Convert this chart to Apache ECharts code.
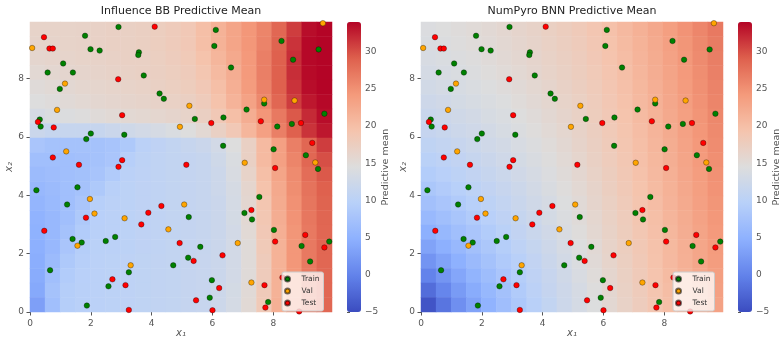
<!DOCTYPE html>
<html>
<head>
<meta charset="utf-8">
<script src="https://cdn.jsdelivr.net/npm/echarts@6/dist/echarts.min.js"></script>
<style>
  html, body { margin: 0; padding: 0; background: #fff; }
  #chart { width: 781px; height: 337px; }
</style>
</head>
<body>
<div id="chart"></div>
<script>
// axis ranges and ticks
const axisMax = 9.93
const xTicks = [0, 2, 4, 6, 8]
const cbTicks = [-5, 0, 5, 10, 15, 20, 25, 30]
const cMin = -5
const cMax = 34

// points (x1, x2)
const trainPts = [
  [2.91, 9.76], [1.81, 9.46], [1.99, 9.00], [2.29, 8.95], [3.58, 8.89], [3.56, 8.80], [1.09, 8.51],
  [0.58, 8.20], [1.41, 8.20], [3.74, 8.10], [0.98, 7.64], [4.26, 7.48], [4.40, 7.30], [0.32, 6.59],
  [0.35, 6.35], [2.00, 6.11], [1.85, 5.92], [3.10, 6.07], [6.11, 9.66], [8.27, 9.28], [6.06, 9.11],
  [9.49, 8.99], [8.65, 8.64], [6.61, 8.37], [7.70, 7.14], [7.12, 6.93], [9.68, 6.79], [5.42, 6.61],
  [6.36, 6.66], [8.13, 6.35], [8.61, 6.44], [6.35, 5.69], [8.01, 5.57], [9.07, 5.37], [9.47, 4.90],
  [0.21, 4.17], [1.56, 4.27], [1.22, 3.68], [1.40, 2.50], [1.70, 2.38], [2.49, 2.43], [2.80, 2.57],
  [0.66, 1.43], [3.25, 1.36], [4.71, 1.60], [2.58, 0.88], [1.87, 0.22], [7.54, 3.94], [7.05, 3.39],
  [7.30, 3.17], [5.22, 3.25], [8.02, 2.81], [8.93, 2.26], [9.84, 2.41], [5.60, 2.23], [5.20, 1.86],
  [9.21, 1.73], [5.98, 1.09], [5.91, 0.49], [7.83, 0.34]
]
const valPts = [
  [0.07, 9.04], [1.15, 7.82], [0.89, 6.92], [4.93, 6.34], [1.19, 5.50], [9.63, 9.89], [5.24, 7.06],
  [7.70, 7.27], [8.70, 7.24], [7.06, 5.11], [9.38, 5.12], [1.97, 3.87], [2.12, 3.37], [3.11, 3.21],
  [4.55, 2.83], [1.56, 2.27], [3.31, 1.60], [5.07, 3.68], [6.83, 2.36], [7.28, 1.01]
]
const testPts = [
  [4.10, 9.77], [0.46, 9.41], [0.64, 9.02], [0.75, 9.02], [2.90, 7.97], [3.03, 6.74], [0.26, 6.51],
  [0.78, 6.32], [0.75, 5.29], [3.03, 5.20], [1.61, 5.04], [2.91, 4.97], [5.96, 6.47], [7.59, 6.53],
  [8.91, 6.47], [9.28, 5.79], [5.14, 5.04], [8.06, 4.93], [4.32, 3.63], [1.84, 3.23], [3.89, 3.40],
  [3.66, 3.00], [0.47, 2.78], [4.92, 2.36], [2.71, 1.12], [3.14, 0.92], [3.25, 0.07], [7.28, 3.49],
  [9.05, 2.64], [8.06, 2.41], [9.68, 2.21], [6.33, 1.94], [5.38, 1.75], [6.22, 0.82], [7.71, 0.92],
  [8.30, 1.18], [5.46, 0.40], [6.00, 0.06], [7.74, 0.15], [8.85, 0.02]
]

// predictive mean, 20x20 cells, top row first
const bbMean = [
  [16.5, 16.5, 16.5, 16.6, 16.8, 17, 17, 17.2, 17.5, 18, 18.5, 20, 21.5, 23, 24.5, 26, 28.5, 31, 33.5, 34],
  [16.4, 16.4, 16.5, 16.6, 16.8, 17, 17, 17.2, 17.5, 18, 18.5, 20, 21.5, 23, 24.5, 26.2, 28.8, 31.5, 33.8, 34],
  [16, 16.2, 16.3, 16.5, 16.6, 16.8, 17, 17, 17.3, 17.8, 18.3, 19.5, 21, 22.5, 24.3, 26.5, 29, 31.8, 33.8, 34],
  [15.5, 15.8, 16, 16.2, 16.4, 16.6, 16.8, 17, 17.2, 17.5, 18, 19, 20.5, 22, 24.2, 26.5, 29, 31.8, 33.7, 34],
  [15, 15.3, 15.6, 15.9, 16.1, 16.3, 16.5, 16.7, 17, 17.3, 17.7, 18.5, 20, 21.8, 24, 26.3, 29, 31.5, 33.5, 34],
  [14.5, 14.8, 15.2, 15.5, 15.8, 16, 16.2, 16.4, 16.6, 16.9, 17.2, 18, 19.5, 21.3, 23.3, 25.7, 28.5, 31, 33, 33.8],
  [13.5, 14, 14.3, 14.6, 15, 15.3, 15.5, 15.7, 15.9, 16.2, 16.5, 17.2, 18.5, 20, 22, 24.5, 27, 29.5, 32, 33.5],
  [12, 11.5, 11.5, 11.5, 11.5, 12, 12.5, 13, 13.5, 14, 14.5, 15.5, 17, 18.5, 21, 23.5, 26.5, 29, 31.5, 33],
  [8, 7.5, 7.5, 7.5, 7.5, 7.8, 8.5, 10, 10.5, 11, 11.5, 12, 13, 14.5, 17, 20.5, 23.5, 26.5, 28.5, 31],
  [7, 7, 7, 7.2, 7.5, 8, 9.5, 10.3, 10.7, 11, 11.2, 11.5, 12.5, 14, 17, 20.5, 23.5, 26, 28.5, 30],
  [6.5, 6.8, 7, 7.3, 7.8, 8.8, 10, 10.4, 10.7, 11, 11.2, 11.5, 12.3, 13.8, 16.5, 20, 23, 25.5, 28, 29.5],
  [6, 6.5, 7, 7.5, 8.5, 9.8, 10.2, 10.5, 10.7, 11, 11.2, 11.5, 12.2, 13.5, 16, 19.5, 22.5, 25.3, 27.5, 29],
  [5.5, 6.2, 7, 8, 9.5, 10, 10.2, 10.5, 10.7, 11, 11.2, 11.5, 12, 13.3, 15.8, 19, 22.3, 25, 27.3, 28.8],
  [5.2, 6, 7, 8.5, 9.7, 10, 10.2, 10.5, 10.7, 11, 11.2, 11.5, 12, 13.2, 15.5, 18.8, 22, 24.8, 27.2, 28.6],
  [5, 6, 7.5, 9, 9.8, 10, 10.2, 10.5, 10.7, 11, 11.2, 11.5, 12, 13, 15.3, 18.5, 21.8, 24.6, 27, 28.5],
  [4.8, 6, 8, 9.3, 9.9, 10, 10.2, 10.5, 10.7, 11, 11.2, 11.5, 12, 13, 15, 18.3, 21.5, 24.5, 27, 28.5],
  [4.5, 6.5, 8.5, 9.5, 10, 10.2, 10.4, 10.6, 10.8, 11, 11.3, 11.6, 12, 13, 15, 18, 21.5, 24.5, 27, 28.5],
  [4.3, 7, 9, 9.7, 10, 10.2, 10.4, 10.6, 10.8, 11, 11.3, 11.6, 12, 13, 15, 18, 21.5, 24.5, 27, 28.5],
  [4, 7.5, 9.3, 9.8, 10, 10.2, 10.4, 10.6, 10.8, 11, 11.3, 11.6, 12.2, 13.2, 15.2, 18.2, 21.5, 24.5, 27, 28.5],
  [3, 7, 9.3, 9.8, 10, 10.2, 10.4, 10.6, 10.8, 11, 11.3, 11.6, 12.3, 13.3, 15.3, 18.3, 21.7, 24.7, 27.2, 28.5]
]
const bnnMean = [
  [14.2, 14.5, 14.8, 15.1, 15.4, 15.8, 16.2, 16.6, 17.1, 17.6, 18.2, 18.9, 19.7, 20.6, 21.6, 22.6, 23.7, 24.8, 25.9, 27],
  [14, 14.3, 14.6, 14.9, 15.2, 15.6, 16, 16.4, 16.9, 17.4, 18, 18.7, 19.5, 20.4, 21.4, 22.4, 23.5, 24.6, 25.7, 26.8],
  [13.7, 14, 14.3, 14.6, 15, 15.4, 15.8, 16.2, 16.7, 17.2, 17.8, 18.5, 19.3, 20.2, 21.2, 22.2, 23.3, 24.4, 25.5, 26.6],
  [13.3, 13.7, 14, 14.3, 14.7, 15.1, 15.5, 16, 16.5, 17, 17.6, 18.3, 19.1, 20, 21, 22, 23.1, 24.2, 25.3, 26.4],
  [12.9, 13.3, 13.6, 14, 14.4, 14.8, 15.2, 15.7, 16.2, 16.8, 17.4, 18.1, 18.9, 19.8, 20.8, 21.8, 22.9, 24, 25.1, 26.2],
  [12.4, 12.8, 13.2, 13.6, 14, 14.4, 14.9, 15.4, 15.9, 16.5, 17.1, 17.9, 18.7, 19.6, 20.6, 21.6, 22.7, 23.8, 24.9, 26],
  [11.9, 12.3, 12.7, 13.1, 13.6, 14, 14.5, 15, 15.6, 16.2, 16.9, 17.7, 18.5, 19.4, 20.4, 21.4, 22.5, 23.6, 24.7, 25.8],
  [11.3, 11.7, 12.2, 12.6, 13.1, 13.6, 14.1, 14.7, 15.3, 15.9, 16.6, 17.4, 18.3, 19.2, 20.2, 21.2, 22.3, 23.4, 24.5, 25.6],
  [10.6, 11.1, 11.6, 12.1, 12.6, 13.1, 13.7, 14.3, 14.9, 15.6, 16.4, 17.2, 18.1, 19, 20, 21, 22.1, 23.2, 24.3, 25.4],
  [9.9, 10.4, 10.9, 11.5, 12, 12.6, 13.2, 13.9, 14.6, 15.3, 16.1, 17, 17.9, 18.8, 19.8, 20.8, 21.9, 23, 24.1, 25.2],
  [9.1, 9.7, 10.3, 10.9, 11.5, 12.1, 12.8, 13.5, 14.2, 15, 15.8, 16.7, 17.6, 18.6, 19.6, 20.6, 21.7, 22.8, 23.9, 25],
  [8.2, 8.9, 9.6, 10.3, 10.9, 11.6, 12.3, 13.1, 13.9, 14.7, 15.5, 16.4, 17.4, 18.4, 19.4, 20.4, 21.5, 22.6, 23.7, 24.8],
  [7.2, 8, 8.8, 9.6, 10.3, 11.1, 11.9, 12.7, 13.5, 14.4, 15.2, 16.2, 17.1, 18.1, 19.2, 20.2, 21.3, 22.4, 23.5, 24.6],
  [6.1, 7, 7.9, 8.8, 9.7, 10.5, 11.4, 12.3, 13.2, 14.1, 15, 15.9, 16.9, 17.9, 19, 20, 21.1, 22.2, 23.3, 24.4],
  [4.8, 5.9, 7, 8, 9, 9.9, 10.9, 11.9, 12.8, 13.8, 14.7, 15.7, 16.7, 17.7, 18.8, 19.8, 20.9, 22, 23.1, 24.2],
  [3.4, 4.7, 6, 7.2, 8.3, 9.3, 10.4, 11.4, 12.4, 13.4, 14.4, 15.4, 16.5, 17.5, 18.6, 19.6, 20.7, 21.8, 22.9, 24],
  [1.8, 3.4, 4.9, 6.3, 7.5, 8.7, 9.8, 10.9, 12, 13.1, 14.1, 15.2, 16.3, 17.3, 18.4, 19.5, 20.6, 21.7, 22.8, 23.9],
  [0, 1.9, 3.7, 5.3, 6.7, 8, 9.3, 10.5, 11.6, 12.7, 13.8, 14.9, 16, 17.1, 18.2, 19.3, 20.4, 21.5, 22.6, 23.7],
  [-2, 0.3, 2.5, 4.3, 5.9, 7.4, 8.8, 10.1, 11.3, 12.4, 13.5, 14.6, 15.8, 16.9, 18, 19.1, 20.2, 21.3, 22.4, 23.5],
  [-4.3, -1.3, 1.3, 3.4, 5.2, 6.9, 8.4, 9.8, 11, 12.2, 13.3, 14.4, 15.6, 16.7, 17.8, 18.9, 20, 21.1, 22.2, 23.3]
]

// coolwarm
const coolwarm = ['#3b4cc0', '#6282ea', '#8db0fe', '#b8d0f9', '#dddddd', '#f5c4ad', '#f49a7b', '#de604d', '#b40426']

const chart = echarts.init(document.getElementById('chart'), null, { renderer: 'canvas' })

// heatmap cells, row 0 of the arrays is the top of the plot
function toCells(field) {
  const out = []
  field.forEach((row, r) => {
    row.forEach((v, c) => out.push([c, field.length - 1 - r, v]))
  })
  return out
}

const colIdx = bbMean[0].map((_, i) => i)
const rowIdx = bbMean.map((_, i) => i)

const gray = '#555'
const panels = [
  { title: 'Influence BB Predictive Mean', left: 30, cb: 347, field: bbMean, yGap: 16 },
  { title: 'NumPyro BNN Predictive Mean', left: 421, cb: 738, field: bnnMean, yGap: 13 }
]
const plotTop = 22
const plotH = 290
const plotW = 302

const grids = []
const xAxes = []
const yAxes = []
const seriesList = []
const visualMaps = []
const legends = []
const titles = []

panels.forEach((p, k) => {
  const base = k * 3
  const g = { top: plotTop, height: plotH, show: false, outerBoundsMode: 'none', containLabel: false }
  grids.push(Object.assign({ left: p.left, width: plotW }, g))
  grids.push(Object.assign({ left: p.left, width: plotW }, g))
  grids.push(Object.assign({ left: p.cb, width: 14 }, g))

  // heatmap axes (hidden)
  xAxes.push({ type: 'category', gridIndex: base, data: colIdx, show: false })
  yAxes.push({ type: 'category', gridIndex: base, data: rowIdx, show: false })

  // visible axes for the points
  xAxes.push({
    type: 'value', gridIndex: base + 1, min: 0, max: axisMax,
    name: 'x₁', nameLocation: 'middle', nameGap: 16, nameMoveOverlap: false,
    nameTextStyle: { fontSize: 10, fontStyle: 'italic', color: gray },
    axisLine: { show: false }, splitLine: { show: false },
    axisTick: { show: true, length: 3.5, customValues: xTicks, lineStyle: { color: gray } },
    axisLabel: { customValues: xTicks, fontSize: 9, color: gray, margin: 7 }
  })
  yAxes.push({
    type: 'value', gridIndex: base + 1, min: 0, max: axisMax,
    name: 'x₂', nameLocation: 'middle', nameGap: p.yGap, nameMoveOverlap: false,
    nameTextStyle: { fontSize: 10, fontStyle: 'italic', color: gray },
    axisLine: { show: false }, splitLine: { show: false },
    axisTick: { show: true, length: 3.5, customValues: xTicks, lineStyle: { color: gray } },
    axisLabel: { customValues: xTicks, fontSize: 9, color: gray, margin: 6 }
  })

  // colorbar axis
  xAxes.push({ type: 'value', gridIndex: base + 2, show: false })
  yAxes.push({
    type: 'value', gridIndex: base + 2, position: 'right', min: cMin, max: cMax,
    name: 'Predictive mean', nameLocation: 'middle', nameGap: 20, nameMoveOverlap: false,
    nameTextStyle: { fontSize: 9.5, color: gray },
    axisLine: { show: false }, splitLine: { show: false },
    axisTick: { show: true, length: 3, customValues: cbTicks, lineStyle: { color: gray } },
    axisLabel: {
      customValues: cbTicks, fontSize: 9, color: gray, margin: 4,
      formatter: v => (v < 0 ? '\u2212' + Math.abs(v) : String(v))
    }
  })

  seriesList.push({
    type: 'heatmap', xAxisIndex: base, yAxisIndex: base,
    data: toCells(p.field), itemStyle: { borderWidth: 0 }, progressive: 0
  })

  visualMaps.push({
    type: 'continuous', seriesIndex: k, min: cMin, max: cMax,
    inRange: { color: coolwarm }, calculable: false, hoverLink: false,
    left: p.cb, top: plotTop, itemWidth: 14, itemHeight: plotH, padding: 0
  })

  titles.push({
    text: p.title, left: p.left + plotW / 2, top: 6, textAlign: 'center', padding: 0,
    textStyle: { fontSize: 11, fontWeight: 'normal', color: '#222' }
  })

  legends.push({
    data: ['Train', 'Val', 'Test'], orient: 'vertical',
    left: p.left + 252, top: 272, padding: [3, 4, 4, 2],
    itemWidth: 18, itemHeight: 5, itemGap: 4, icon: 'circle',
    backgroundColor: 'rgba(255,255,255,0.75)', borderColor: '#ccc', borderWidth: 1, borderRadius: 2,
    textStyle: { fontSize: 7.5, color: '#333' }
  })
})

// points, drawn on both panels
const sets = [
  { name: 'Train', data: trainPts, color: '#008000' },
  { name: 'Val', data: valPts, color: '#ffa500' },
  { name: 'Test', data: testPts, color: '#ff0000' }
]
panels.forEach((p, k) => {
  sets.forEach(s => {
    seriesList.push({
      type: 'scatter', name: s.name, xAxisIndex: k * 3 + 1, yAxisIndex: k * 3 + 1,
      data: s.data, symbolSize: 5.5, z: 3,
      itemStyle: { color: s.color, borderColor: 'rgba(0,0,0,0.55)', borderWidth: 0.6, opacity: 1 }
    })
  })
})

chart.setOption({
  animation: false,
  textStyle: { fontFamily: 'DejaVu Sans' },
  title: titles, grid: grids, xAxis: xAxes, yAxis: yAxes,
  visualMap: visualMaps, legend: legends, series: seriesList
})
</script>
</body>
</html>
